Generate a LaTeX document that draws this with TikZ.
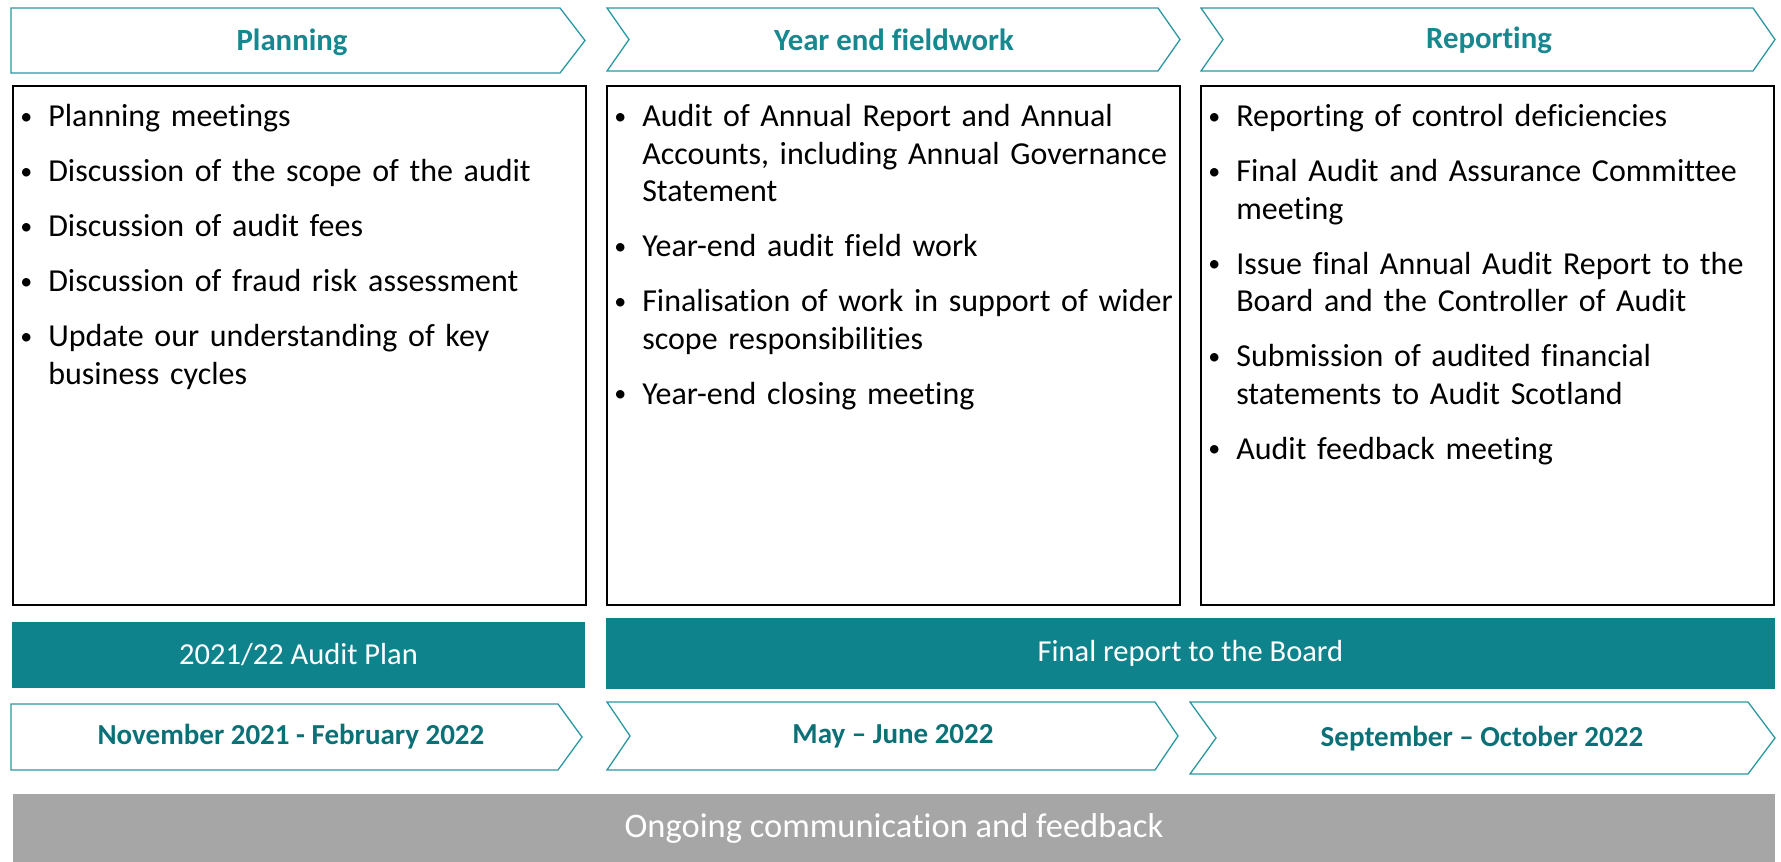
\documentclass[tikz,border=0pt]{standalone}
\usepackage{fontspec}
\setmainfont{Carlito}[Ligatures=NoCommon]
\usepackage{enumitem}
\usetikzlibrary{positioning}
\definecolor{barteal}{HTML}{0F838C}
\definecolor{headteal}{HTML}{17888F}
\definecolor{dateteal}{HTML}{0B7177}
\definecolor{chevteal}{HTML}{2A98A0}
\definecolor{commgrey}{HTML}{A6A6A6}
\newlist{auditsteps}{itemize}{1}
\setlist[auditsteps]{label={\hspace*{-2pt}\raisebox{2.5pt}{\fontsize{24}{24}\selectfont\textbullet}}, align=left, leftmargin=26pt, labelwidth=26pt, labelsep=0pt, labelindent=0pt, topsep=0pt, partopsep=0pt, parsep=0pt, itemsep=17.5pt}
% chevron: left, notch, corner, tip, top, bottom
\newcommand{\chevron}[6]{\draw[chevline] (#1,#5) -- (#3,#5) -- (#4,{(#5+#6)/2}) -- (#3,#6) -- (#1,#6) -- (#2,{(#5+#6)/2}) -- cycle;}

\begin{document}
\begin{tikzpicture}[x=1pt,y=-1pt,
	chevline/.style={draw=chevteal, line width=1.3pt, fill=white},
	headtxt/.style={font=\fontsize{30.8}{36}\selectfont\bfseries, text=headteal},
	phasebox/.style={draw=black, line width=1.8pt, inner sep=0pt},
	steplist/.style={anchor=north west, inner sep=0pt, text width=560pt, align=left, font=\fontsize{32}{37.5}\selectfont},
	milestone/.style={fill=barteal, inner sep=0pt, text=white, font=\fontsize{30.5}{36}\selectfont},
	datetxt/.style={font=\fontsize{29}{34}\selectfont\bfseries, text=dateteal},
	commbar/.style={fill=commgrey, inner sep=0pt, text=white, font=\fontsize{34.5}{40}\selectfont}]
	\useasboundingbox (0,0) rectangle (1781,862);

	% phase headers
	\chevron{11}{11}{560}{585}{8}{73}
	\chevron{607}{629}{1158}{1180}{8}{71}
	\chevron{1201}{1223}{1753}{1775}{8}{71}
	\node[headtxt] (planhead) at (292,42) {Planning};
	\node[headtxt] (fieldhead) at (894,40) {Year end fieldwork};
	\node[headtxt] (rephead) at (1489,40) {Reporting};

	% activities
	\node[phasebox, minimum width=573pt, minimum height=519pt] (planbox) at (299.5,345.5) {};
	\node[phasebox, minimum width=573pt, minimum height=519pt] (fieldbox) at (893.5,345.5) {};
	\node[phasebox, minimum width=573pt, minimum height=519pt] (repbox) at (1487.5,345.5) {};
	\node[steplist] (planlist) at ([xshift=10pt,yshift=-4pt]planbox.north west) {%
		\begin{auditsteps}
			\item Planning meetings
			\item Discussion of the scope of the audit
			\item Discussion of audit fees
			\item Discussion of fraud risk assessment
			\item Update our understanding of key\newline business cycles
		\end{auditsteps}};
	\node[steplist] (fieldlist) at ([xshift=10pt,yshift=-4pt]fieldbox.north west) {%
		\begin{auditsteps}
			\item Audit of Annual Report and Annual\newline Accounts, including Annual Governance\newline Statement
			\item Year-end audit field work
			\item Finalisation of work in support of wider\newline scope responsibilities
			\item Year-end closing meeting
		\end{auditsteps}};
	\node[steplist] (replist) at ([xshift=10pt,yshift=-4pt]repbox.north west) {%
		\begin{auditsteps}
			\item Reporting of control deficiencies
			\item Final Audit and Assurance Committee\newline meeting
			\item Issue final Annual Audit Report to the\newline Board and the Controller of Audit
			\item Submission of audited financial\newline statements to Audit Scotland
			\item Audit feedback meeting
		\end{auditsteps}};

	% outputs
	\node[milestone, minimum width=573pt, minimum height=66pt] (planout) at (298.5,655) {2021/22 Audit Plan};
	\node[milestone, minimum width=1169pt, minimum height=71pt] (finalout) at (1190.5,653.5) {Final report to the Board};

	% timing
	\chevron{11}{11}{558}{582}{704}{770}
	\chevron{607}{630}{1155}{1178}{702}{770}
	\chevron{1190}{1216}{1748}{1775}{702}{774}
	\node[datetxt] (plandate) at (291,737) {November 2021 - February 2022};
	\node[datetxt] (fielddate) at (893,736) {May – June 2022};
	\node[datetxt] (repdate) at (1482,739) {September – October 2022};

	\node[commbar, minimum width=1762pt, minimum height=68pt] (comm) at (894,828) {Ongoing communication and feedback};
\end{tikzpicture}
\end{document}
